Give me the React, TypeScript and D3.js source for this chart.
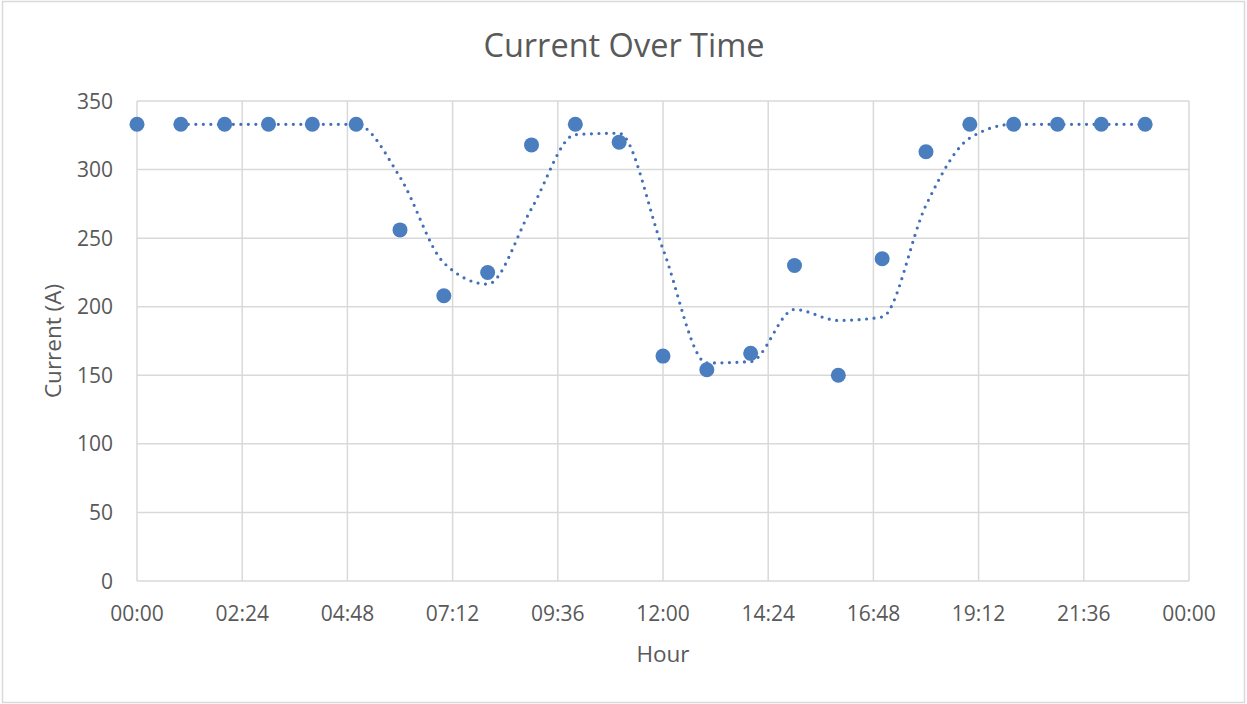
import React from "react";
import * as d3 from "d3";

const hours: number[] = [0, 1, 2, 3, 4, 5, 6, 7, 8, 9, 10, 11, 12, 13, 14, 15, 16, 17, 18, 19, 20, 21, 22, 23];
const current: number[] = [333, 333, 333, 333, 333, 333, 256, 208, 225, 318, 333, 320, 164, 154, 166, 230, 150, 235, 313, 333, 333, 333, 333, 333];
const xTickLabels: string[] = ["00:00", "02:24", "04:48", "07:12", "09:36", "12:00", "14:24", "16:48", "19:12", "21:36", "00:00"];
const yTicks: number[] = [0, 50, 100, 150, 200, 250, 300, 350];
const maPeriod = 2;

const W = 1247;
const H = 704;
const M = { left: 137, right: 1189, top: 101, bottom: 581 };
const FONT = "'Open Sans', 'Noto Sans', sans-serif";
const TXT = "#595959";
const GRID = "#d9d9d9";

export default function App() {
  const x = d3.scaleLinear().domain([0, 24]).range([M.left, M.right]);
  const y = d3.scaleLinear().domain([0, 350]).range([M.bottom, M.top]);
  const xTicks = xTickLabels.map((_, i) => i * 2.4);

  const trend: [number, number][] = [];
  for (let i = maPeriod - 1; i < hours.length; i++) {
    const vals = current.slice(i - maPeriod + 1, i + 1);
    trend.push([hours[i], d3.mean(vals) as number]);
  }
  const line = d3
    .line<[number, number]>()
    .x((d) => x(d[0]))
    .y((d) => y(d[1]))
    .curve(d3.curveMonotoneX);

  return (
    <svg
      width={W}
      height={H}
      style={{ position: "absolute", left: 0, top: 0, background: "#fff" }}
      fontFamily={FONT}
    >
      <rect x={2.5} y={1.5} width={W - 5} height={H - 3} fill="#fff" stroke={GRID} strokeWidth={1.5} />
      <text x={624} y={57} textAnchor="middle" fontSize={32.5} fill={TXT}>
        Current Over Time
      </text>
      {yTicks.map((t) => (
        <g key={"y" + t}>
          <line x1={M.left} x2={M.right} y1={y(t)} y2={y(t)} stroke={GRID} strokeWidth={1.5} />
          <text x={113} y={y(t) + 7.5} textAnchor="end" fontSize={21} fill={TXT}>
            {t}
          </text>
        </g>
      ))}
      {xTicks.map((t, i) => (
        <g key={"x" + i}>
          <line x1={x(t)} x2={x(t)} y1={M.top} y2={M.bottom} stroke={GRID} strokeWidth={1.5} />
          <text x={x(t)} y={621} textAnchor="middle" fontSize={21} fill={TXT}>
            {xTickLabels[i]}
          </text>
        </g>
      ))}
      <text x={663} y={662} textAnchor="middle" fontSize={22.5} fill={TXT}>
        Hour
      </text>
      <text
        transform={`translate(61, ${341}) rotate(-90)`}
        textAnchor="middle"
        fontSize={22.5}
        fill={TXT}
      >
        Current (A)
      </text>
      <path
        d={line(trend) || ""}
        fill="none"
        stroke="#4170b8"
        strokeWidth={3.2}
        strokeDasharray="0 7.5"
        strokeLinecap="round"
      />
      {hours.map((h, i) => (
        <circle key={"p" + i} cx={x(h)} cy={y(current[i])} r={7.5} fill="#4a7ebf" />
      ))}
    </svg>
  );
}
